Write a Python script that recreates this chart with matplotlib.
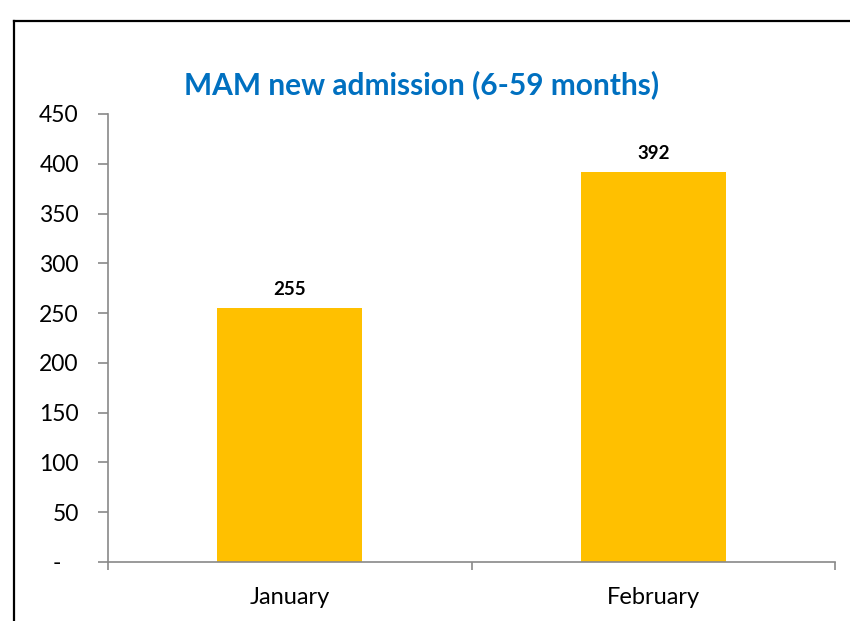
import matplotlib
matplotlib.use("Agg")
import matplotlib.pyplot as plt
from matplotlib.lines import Line2D

# datos del grafico
meses = ["January", "February"]
admisiones = [255, 392]
y_ticks = [0, 50, 100, 150, 200, 250, 300, 350, 400, 450]
y_labels = ["-   ", "50", "100", "150", "200", "250", "300", "350", "400", "450"]
titulo = "MAM new admission (6-59 months)"

plt.rcParams["font.family"] = ["Lato", "DejaVu Sans"]

fig = plt.figure(figsize=(8.5, 6.21), dpi=100)
ax = fig.add_axes([108 / 850, 59 / 621, (835 - 108) / 850, (562 - 114) / 621])

x = list(range(len(meses)))
barras = ax.bar(x, admisiones, width=0.4, color="#FFC000", zorder=2)
for b, v in zip(barras, admisiones):
    ax.annotate(str(v), (b.get_x() + b.get_width() / 2, v), xytext=(0, 7),
                textcoords="offset points", ha="center", va="bottom",
                fontsize=13.5, fontweight="bold", color="black")

ax.set_xlim(-0.5, len(meses) - 0.5)
ax.set_ylim(0, 450)
ax.set_yticks(y_ticks)
ax.set_yticklabels(y_labels)

# ticks en x en los limites de las categorias
ax.set_xticks([i - 0.5 for i in range(len(meses) + 1)])
ax.set_xticklabels([])
ax.set_xticks(x, minor=True)
ax.set_xticklabels(meses, minor=True)
ax.tick_params(axis="x", which="minor", length=0, pad=18, labelsize=17)
ax.tick_params(axis="x", which="major", length=6, width=1.2, color="#898989", direction="out")
ax.tick_params(axis="y", length=7, width=1.2, color="#898989", direction="out", pad=14, labelsize=16.5)

for lado in ["top", "right"]:
    ax.spines[lado].set_visible(False)
for lado in ["left", "bottom"]:
    ax.spines[lado].set_color("#898989")
    ax.spines[lado].set_linewidth(1.2)

fig.text(422 / 850, 1 - 85 / 621, titulo, ha="center", va="center",
         fontsize=21.5, fontweight="bold", color="#0070C0")

# borde del grafico
fig.add_artist(Line2D([14 / 850, 14 / 850], [0, 1 - 21 / 621], color="black", lw=1.6, transform=fig.transFigure))
fig.add_artist(Line2D([14 / 850, 1], [1 - 21 / 621, 1 - 21 / 621], color="black", lw=1.6, transform=fig.transFigure))

fig.savefig("out.png", dpi=100)
